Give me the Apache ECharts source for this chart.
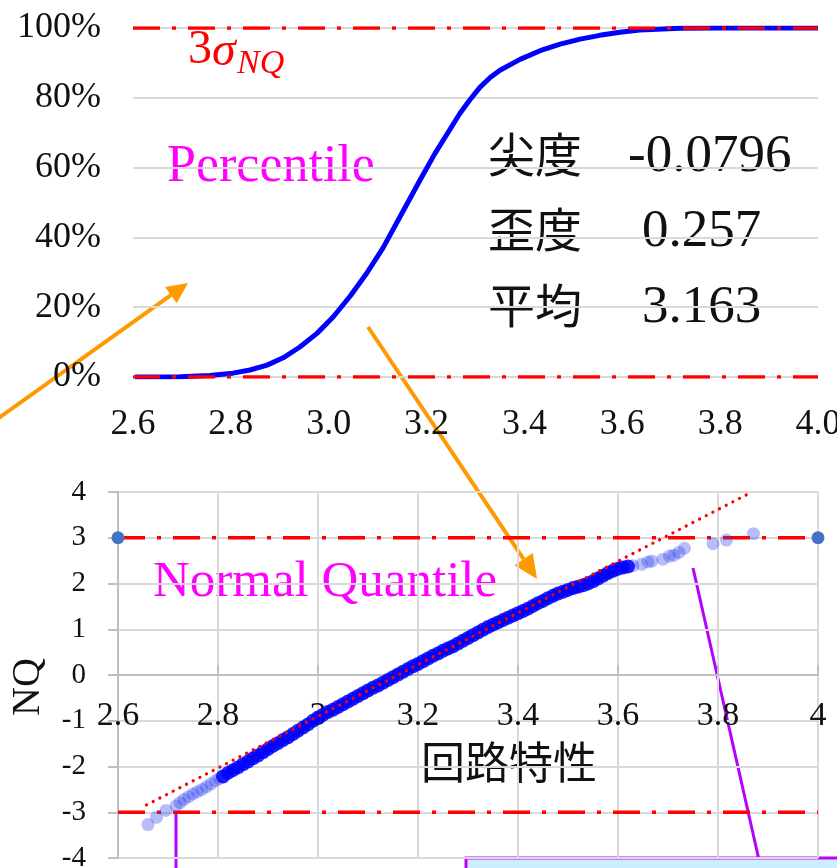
<!DOCTYPE html>
<html>
<head>
<meta charset="utf-8">
<script src="https://cdn.jsdelivr.net/npm/echarts@6.0.0/dist/echarts.min.js"></script>
<style>
  html, body { margin: 0; padding: 0; background: #ffffff; }
  #chart { width: 837px; height: 868px; }
</style>
</head>
<body>
<div id="chart"></div>
<script>
// ---- cumulative percentile of the circuit characteristic ----
const cdfX   = [2.604, 2.696, 2.757, 2.804, 2.839, 2.874, 2.907, 2.941, 2.976, 3.009, 3.044, 3.078, 3.111,
                3.146, 3.187, 3.217, 3.248, 3.268, 3.289, 3.309, 3.330, 3.350, 3.391, 3.432, 3.473,
                3.514, 3.554, 3.595, 3.636, 3.718, 3.80, 4.00];
const cdfPct = [0, 0.1, 0.4, 1.1, 2.0, 3.4, 5.5, 8.6, 12.5, 17.2, 23.2, 29.8, 37.0,
                46.0, 56.5, 64.0, 71.0, 75.5, 79.5, 83.0, 85.8, 87.9, 91.0, 93.5, 95.4,
                96.8, 97.9, 98.8, 99.4, 99.9, 100, 100];

// ---- normal quantile plot: measured value vs. normal quantile ----
// dense central part of the sample
const qqCoreX = [2.810, 2.820, 2.830, 2.840, 2.850, 2.860, 2.870, 2.880, 2.890, 2.900,
                 2.910, 2.920, 2.930, 2.940, 2.950, 2.960, 2.970, 2.980, 2.990, 3.000,
                 3.010, 3.020, 3.030, 3.040, 3.050, 3.060, 3.070, 3.080, 3.090, 3.100,
                 3.110, 3.120, 3.130, 3.140, 3.150, 3.160, 3.170, 3.180, 3.190, 3.200,
                 3.210, 3.220, 3.230, 3.240, 3.250, 3.260, 3.270, 3.280, 3.290, 3.300,
                 3.310, 3.320, 3.330, 3.340, 3.350, 3.360, 3.370, 3.380, 3.390, 3.400,
                 3.410, 3.420, 3.430, 3.440, 3.450, 3.460, 3.470, 3.480, 3.490, 3.500,
                 3.510, 3.520, 3.530, 3.540, 3.550, 3.560, 3.570, 3.580, 3.590, 3.600,
                 3.610, 3.620];
const qqCoreNQ = [-2.22, -2.14, -2.08, -2.02, -1.95, -1.89, -1.82, -1.76, -1.69, -1.62,
                  -1.55, -1.49, -1.42, -1.36, -1.29, -1.22, -1.15, -1.08, -1.00, -0.93,
                  -0.87, -0.81, -0.76, -0.70, -0.64, -0.58, -0.52, -0.46, -0.40, -0.34,
                  -0.28, -0.23, -0.17, -0.11, -0.05, 0.01, 0.07, 0.13, 0.19, 0.24,
                  0.30, 0.36, 0.42, 0.47, 0.53, 0.58, 0.63, 0.69, 0.75, 0.81,
                  0.87, 0.93, 0.99, 1.05, 1.10, 1.15, 1.20, 1.25, 1.30, 1.35,
                  1.40, 1.45, 1.51, 1.57, 1.62, 1.68, 1.73, 1.78, 1.82, 1.86,
                  1.90, 1.93, 1.96, 2.00, 2.05, 2.11, 2.17, 2.23, 2.28, 2.32,
                  2.35, 2.37];
// sparse tails
const qqTailX  = [2.660, 2.677, 2.696, 2.716, 2.724, 2.732, 2.741, 2.750, 2.759, 2.768, 2.777, 2.786, 2.795, 2.803,
                  3.630, 3.647, 3.660, 3.668, 3.690, 3.703, 3.712, 3.722, 3.733, 3.790, 3.817, 3.871];
const qqTailNQ = [-3.27, -3.11, -2.96, -2.86, -2.79, -2.72, -2.66, -2.60, -2.55, -2.50, -2.44, -2.38, -2.31, -2.26,
                  2.39, 2.42, 2.47, 2.49, 2.53, 2.60, 2.62, 2.68, 2.77, 2.87, 2.95, 3.09];

// linear fit through the quantile plot (end points)
const fitX  = [2.657, 3.866];
const fitNQ = [-2.84, 3.99];

// reference levels
const xRange   = [2.6, 4.0];
const nqRange  = [-4, 4];
const pctLimit = [0, 100];
const nqLimit  = [3, -3];

// summary statistics
const statNames  = ['尖度', '歪度', '平均'];
const statValues = ['-0.0796', '0.257', '3.163'];

const SERIF = '"Liberation Serif", "Times New Roman", serif';
const CJK = '"Noto Sans CJK JP", "Noto Sans CJK SC", sans-serif';
const dashDot = [27, 12, 4, 12];
const red = '#FF0000';

const pairs = (xs, ys) => xs.map((x, i) => [x, ys[i]]);

function arrow(x1, y1, x2, y2, headLen, headHalf, color, width) {
  const dx = x2 - x1, dy = y2 - y1, len = Math.hypot(dx, dy);
  const ux = dx / len, uy = dy / len, nx = -uy, ny = ux;
  const bx = x2 - ux * headLen, by = y2 - uy * headLen;
  return [
    { type: 'line', shape: { x1, y1, x2: bx, y2: by }, style: { stroke: color, lineWidth: width } },
    { type: 'polygon', shape: { points: [[x2, y2], [bx + nx * headHalf, by + ny * headHalf], [bx - nx * headHalf, by - ny * headHalf]] },
      style: { fill: color } }
  ];
}

function label(text, x, y, size, color, family, italic) {
  return {
    type: 'text', x, y,
    style: { text, fill: color, fontSize: size, fontFamily: family, fontStyle: italic ? 'italic' : 'normal',
             align: 'left', verticalAlign: 'middle' }
  };
}

// quantile panel geometry (pixels)
const qGrid = { left: 118, top: 492, width: 700, height: 366 };
const zeroOffset = -qGrid.height * (0 - nqRange[0]) / (nqRange[1] - nqRange[0]);

const statRowsY = [154, 229, 305];
const statValX = [628, 642, 642];

const graphics = [];
// annotations on the percentile panel
graphics.push(label('3', 188, 50, 48, red, SERIF, false));
graphics.push(label('σ', 212, 52, 48, red, SERIF, true));
graphics.push(label('NQ', 237, 64, 34, red, SERIF, true));
graphics.push(label('Percentile', 167, 167, 52, '#FF00FF', SERIF, false));
statNames.forEach((n, i) => {
  graphics.push(label(n, 488, statRowsY[i], 47, '#111111', CJK, false));
  graphics.push(label(statValues[i], statValX[i], statRowsY[i] + 3, 53, '#111111', SERIF, false));
});
// annotations on the quantile panel
graphics.push(label('Normal Quantile', 153, 583, 51, '#FF00FF', SERIF, false));
graphics.push({ type: 'text', x: 509, y: 762,
  style: { text: '回路特性', fill: '#111111', fontSize: 44, fontFamily: CJK, align: 'center', verticalAlign: 'middle' } });
graphics.push({ type: 'text', x: 28, y: 687, rotation: Math.PI / 2,
  style: { text: 'NQ', fill: '#111111', fontSize: 40, fontFamily: SERIF, align: 'center', verticalAlign: 'middle' } });
// callout lines and box
graphics.push({ type: 'line', shape: { x1: 176, y1: 813, x2: 176, y2: 870 }, style: { stroke: '#B400FF', lineWidth: 3 } });
graphics.push({ type: 'line', shape: { x1: 693, y1: 568, x2: 759, y2: 860 }, style: { stroke: '#B400FF', lineWidth: 3 } });
graphics.push({ type: 'rect', shape: { x: 466, y: 858, width: 420, height: 40 }, style: { fill: '#CCEEFF', stroke: '#C000FF', lineWidth: 3 } });
// arrows
arrow(-4, 420, 188, 283, 21, 10, '#FF9900', 4).forEach(g => graphics.push(g));
arrow(368, 327, 537, 579, 24, 11, '#FF9900', 4).forEach(g => graphics.push(g));

const limitLine = (xAxisIndex, yAxisIndex, y, withEnds) => ({
  type: 'line', xAxisIndex, yAxisIndex,
  data: [[xRange[0], y], [xRange[1], y]],
  symbol: withEnds ? 'circle' : 'none', symbolSize: 13, showSymbol: !!withEnds,
  itemStyle: { color: '#4472C4' },
  lineStyle: { color: red, width: 3.5, type: dashDot },
  silent: true, animation: false, z: 3
});

const option = {
  animation: false,
  backgroundColor: '#ffffff',
  grid: [
    { left: 133, top: 28, width: 685, height: 349, outerBoundsMode: 'none', containLabel: false },
    Object.assign({ outerBoundsMode: 'none', containLabel: false }, qGrid)
  ],
  xAxis: [
    { type: 'value', gridIndex: 0, min: xRange[0], max: xRange[1], interval: 0.2,
      axisLine: { show: false }, axisTick: { show: false }, splitLine: { show: false },
      axisLabel: { formatter: v => v.toFixed(1), fontSize: 36, fontFamily: SERIF, color: '#111111', margin: 30 } },
    { type: 'value', gridIndex: 1, min: xRange[0], max: xRange[1], interval: 0.2,
      position: 'bottom', offset: zeroOffset,
      axisLine: { show: true, onZero: false, lineStyle: { color: '#BFBFBF', width: 2 } },
      axisTick: { show: true, inside: true, length: 10, lineStyle: { color: '#BFBFBF', width: 2 } },
      splitLine: { show: true, lineStyle: { color: '#D9D9D9', width: 2 } },
      axisLabel: { formatter: v => String(Math.round(v * 10) / 10), fontSize: 34, fontFamily: SERIF, color: '#111111', margin: 24 } }
  ],
  yAxis: [
    { type: 'value', gridIndex: 0, min: 0, max: 100, interval: 20,
      axisLine: { show: false }, axisTick: { show: false },
      splitLine: { show: true, lineStyle: { color: '#D9D9D9', width: 2 } },
      axisLabel: { formatter: '{value}%', fontSize: 36, fontFamily: SERIF, color: '#111111', margin: 32 } },
    { type: 'value', gridIndex: 1, min: nqRange[0], max: nqRange[1], interval: 1,
      axisLine: { show: true, onZero: false, lineStyle: { color: '#BFBFBF', width: 2 } },
      axisTick: { show: true, length: 10, lineStyle: { color: '#BFBFBF', width: 2 } },
      splitLine: { show: true, lineStyle: { color: '#D9D9D9', width: 2 } },
      axisLabel: { fontSize: 29, fontFamily: SERIF, color: '#111111', margin: 32 } }
  ],
  series: [
    { type: 'line', xAxisIndex: 0, yAxisIndex: 0, data: pairs(cdfX, cdfPct),
      smooth: false, showSymbol: false, symbol: 'none',
      lineStyle: { color: '#0000FF', width: 5, join: 'round' }, z: 2 },
    limitLine(0, 0, pctLimit[0], false),
    limitLine(0, 0, pctLimit[1], false),
    limitLine(1, 1, nqLimit[1], false),
    { type: 'scatter', xAxisIndex: 1, yAxisIndex: 1, data: pairs(qqTailX, qqTailNQ),
      symbolSize: 13, itemStyle: { color: 'rgba(40,60,240,0.42)' }, z: 4 },
    { type: 'scatter', xAxisIndex: 1, yAxisIndex: 1, data: pairs(qqCoreX, qqCoreNQ),
      symbolSize: 14, itemStyle: { color: '#0000FF', opacity: 0.85 }, z: 4 },
    limitLine(1, 1, nqLimit[0], true),
    { type: 'line', xAxisIndex: 1, yAxisIndex: 1, data: pairs(fitX, fitNQ),
      symbol: 'none', showSymbol: false,
      lineStyle: { color: red, width: 3.2, type: [0.1, 7.4], cap: 'round' }, z: 6 }
  ],
  graphic: graphics
};

const chart = echarts.init(document.getElementById('chart'), null, { renderer: 'canvas' });
chart.setOption(option);
</script>
</body>
</html>
